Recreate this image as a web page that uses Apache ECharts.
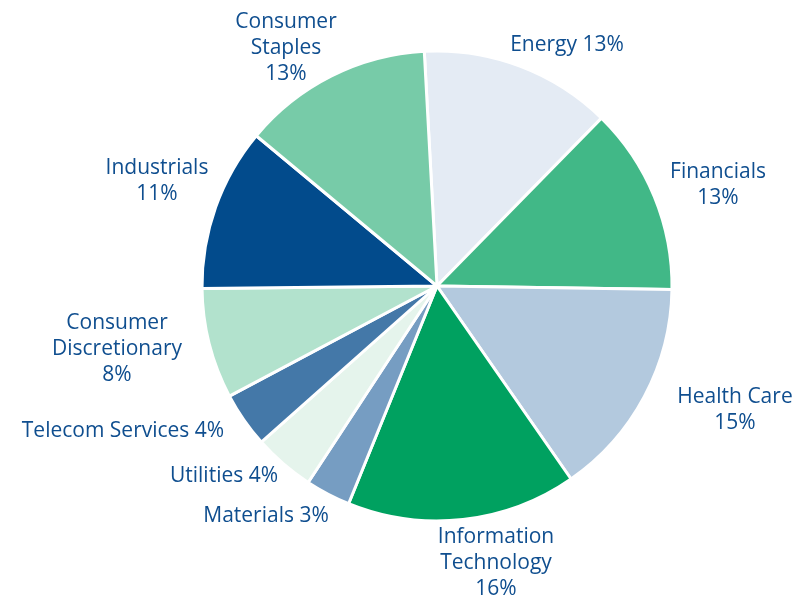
<!DOCTYPE html>
<html>
<head>
<meta charset="utf-8">
<script src="https://cdn.jsdelivr.net/npm/echarts@6/dist/echarts.min.js"></script>
<style>
  html, body { margin: 0; padding: 0; background: #fff; }
  #chart { width: 804px; height: 597px; }
</style>
</head>
<body>
<div id="chart"></div>
<script>
// sectors, clockwise from the top
const sectors = [
  'Energy', 'Financials', 'Health Care', 'Information Technology', 'Materials',
  'Utilities', 'Telecom Services', 'Consumer Discretionary', 'Industrials', 'Consumer Staples'
]
// weights (%)
const weights = [13.2, 12.9, 15.1, 15.8, 3.1, 4.2, 3.8, 7.6, 11.2, 13.1]
// label text as printed
const labelText = [
  'Energy 13%', 'Financials\n13%', 'Health Care\n15%', 'Information\nTechnology\n16%', 'Materials 3%',
  'Utilities 4%', 'Telecom Services 4%', 'Consumer\nDiscretionary\n8%', 'Industrials\n11%', 'Consumer\nStaples\n13%'
]
const colors = [
  '#e4ebf4', '#41b887', '#b3c9de', '#00a160', '#769dc2',
  '#e5f4ec', '#4478a8', '#b2e2cd', '#024b8c', '#77cba8'
]
// label centres (layout only)
const labelPos = [
  [567, 45], [718, 185], [735, 410], [496, 563], [266, 516],
  [224, 476], [123, 431], [117, 349], [157, 181], [286, 48]
]

const chart = echarts.init(document.getElementById('chart'))

chart.setOption({
  animation: false,
  series: [{
    type: 'pie',
    center: [437, 286],
    radius: [0, 235],
    startAngle: 93.1,
    clockwise: true,
    avoidLabelOverlap: false,
    itemStyle: { borderColor: '#fff', borderWidth: 3 },
    label: {
      show: true,
      position: 'outside',
      color: '#0f4e8f',
      fontFamily: 'Open Sans',
      fontSize: 21,
      lineHeight: 26,
      align: 'center',
      formatter: p => labelText[p.dataIndex]
    },
    labelLine: { show: false },
    labelLayout: p => ({
      x: labelPos[p.dataIndex][0],
      y: labelPos[p.dataIndex][1],
      align: 'center',
      verticalAlign: 'middle'
    }),
    data: sectors.map((name, i) => ({
      name,
      value: weights[i],
      itemStyle: { color: colors[i] }
    }))
  }]
})
</script>
</body>
</html>
